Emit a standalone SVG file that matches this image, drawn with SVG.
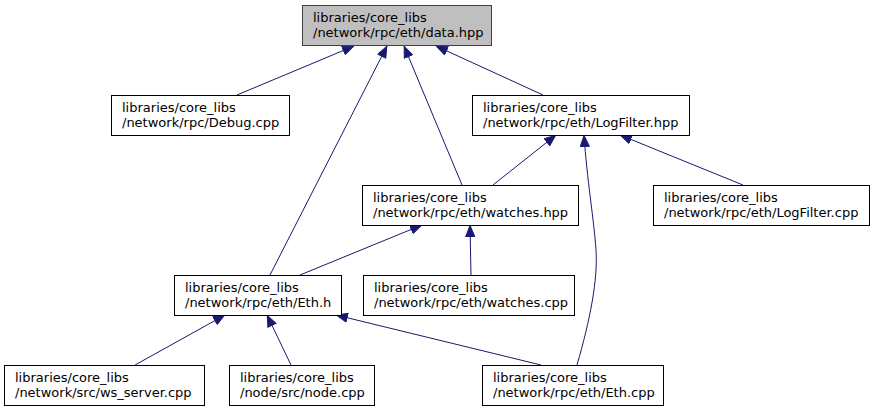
<svg xmlns="http://www.w3.org/2000/svg" width="873" height="409" viewBox="0 0 873 409">
<style>
.n rect{fill:#ffffff;stroke:#000000;stroke-width:1}
.n.root rect{fill:#bfbfbf;stroke:#404040}
.n text{font-family:"DejaVu Sans","Liberation Sans",sans-serif;font-size:13px;fill:#000000}
.e path{fill:none;stroke:#191970;stroke-width:1;marker-end:url(#ah)}
</style>
<defs>
<marker id="ah" markerUnits="userSpaceOnUse" markerWidth="12" markerHeight="10" viewBox="0 0 12 10" refX="12" refY="5" orient="auto">
<path d="M0.5,0.5 L11.5,5 L0.5,9.5 z" fill="#191970" stroke="#191970" stroke-width="1"/>
</marker>
</defs>
<rect width="873" height="409" fill="#ffffff"/>
<g id="edges" class="e">
<path d="M237,95 L354,46"/>
<path d="M270,275 L387,46"/>
<path d="M462,185 L404,46"/>
<path d="M543,95 L436,46"/>
<path d="M493,185 L556,135"/>
<path d="M743,185 L620,135"/>
<path d="M577,365 C590,320 598,280 596,250 C594,220 587,180 584,135"/>
<path d="M300,275 L422,225"/>
<path d="M471,275 L470,225"/>
<path d="M135,365 L225,315"/>
<path d="M291,365 L267,315"/>
<path d="M541,365 L336,315"/>
</g>
<g id="data_hpp" class="n root">
<rect x="302.5" y="5.5" width="189" height="40"/>
<text x="313" y="22">libraries/core_libs</text>
<text x="313" y="37">/network/rpc/eth/data.hpp</text>
</g>
<g id="debug_cpp" class="n">
<rect x="111.5" y="95.5" width="178" height="40"/>
<text x="122" y="112">libraries/core_libs</text>
<text x="122" y="127">/network/rpc/Debug.cpp</text>
</g>
<g id="logfilter_hpp" class="n">
<rect x="472.5" y="95.5" width="217" height="40"/>
<text x="483" y="112">libraries/core_libs</text>
<text x="483" y="127">/network/rpc/eth/LogFilter.hpp</text>
</g>
<g id="watches_hpp" class="n">
<rect x="362.5" y="185.5" width="216" height="40"/>
<text x="373" y="202">libraries/core_libs</text>
<text x="373" y="217">/network/rpc/eth/watches.hpp</text>
</g>
<g id="logfilter_cpp" class="n">
<rect x="653.5" y="185.5" width="216" height="40"/>
<text x="664" y="202">libraries/core_libs</text>
<text x="664" y="217">/network/rpc/eth/LogFilter.cpp</text>
</g>
<g id="eth_h" class="n">
<rect x="174.5" y="275.5" width="167" height="40"/>
<text x="185" y="292">libraries/core_libs</text>
<text x="185" y="307">/network/rpc/eth/Eth.h</text>
</g>
<g id="watches_cpp" class="n">
<rect x="363.5" y="275.5" width="211" height="40"/>
<text x="374" y="292">libraries/core_libs</text>
<text x="374" y="307">/network/rpc/eth/watches.cpp</text>
</g>
<g id="ws_server_cpp" class="n">
<rect x="4.5" y="365.5" width="200" height="40"/>
<text x="15" y="382">libraries/core_libs</text>
<text x="15" y="397">/network/src/ws_server.cpp</text>
</g>
<g id="node_cpp" class="n">
<rect x="229.5" y="365.5" width="145" height="40"/>
<text x="240" y="382">libraries/core_libs</text>
<text x="240" y="397">/node/src/node.cpp</text>
</g>
<g id="eth_cpp" class="n">
<rect x="482.5" y="365.5" width="181" height="40"/>
<text x="493" y="382">libraries/core_libs</text>
<text x="493" y="397">/network/rpc/eth/Eth.cpp</text>
</g>
</svg>
